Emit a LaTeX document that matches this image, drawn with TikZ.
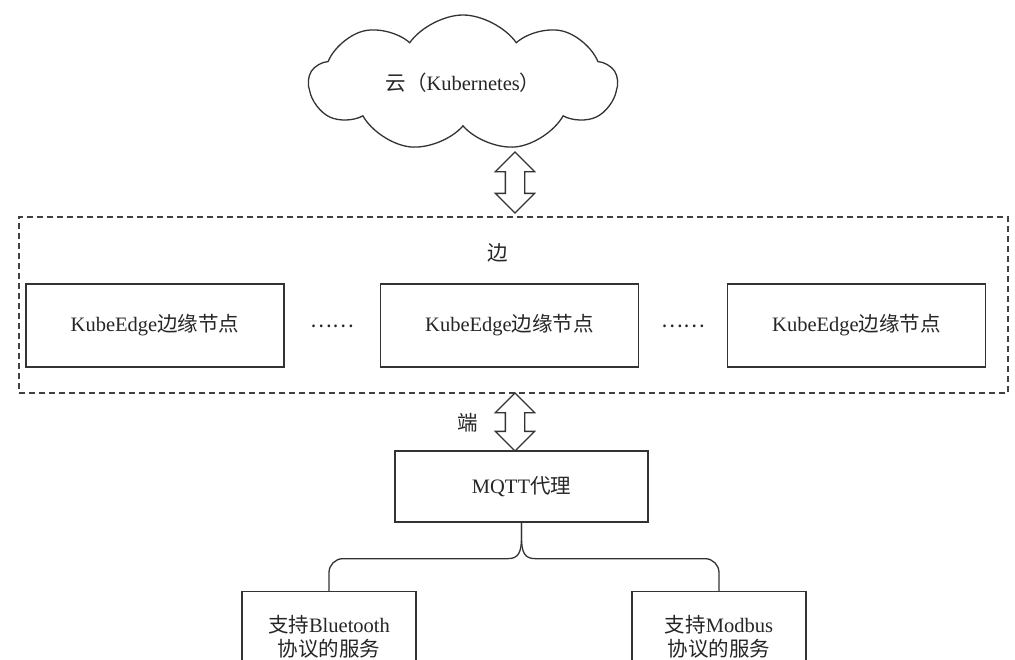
\documentclass[tikz,border=0pt]{standalone}
\usepackage{fontspec}
\setmainfont{Liberation Serif}
\newfontfamily\cjk{Noto Sans CJK SC}
\usetikzlibrary{shapes.symbols,shapes.arrows,calc}

\begin{document}
\begin{tikzpicture}[
  x=1pt, y=-1pt,
  font=\fontsize{20.5}{24}\selectfont,
  cloudnode/.style={cloud, draw=black!80, line width=1.3pt, fill=white,
              cloud puffs=9, cloud puff arc=110, aspect=2.4,
              minimum width=308pt, minimum height=136pt, text=black!85},
  box/.style={rectangle, draw=black!80, line width=1.3pt, fill=white,
              align=center, minimum width=258pt, minimum height=83pt,
              inner sep=0pt, text=black!85},
  svc/.style={rectangle, draw=black!80, line width=1.3pt, fill=white,
              align=center, minimum width=174pt, inner xsep=0pt,
              inner ysep=24pt, anchor=north, text=black!85},
  frame/.style={rectangle, draw=black!75, line width=1.2pt,
              dash pattern=on 6pt off 4pt, minimum width=989pt,
              minimum height=176pt, inner sep=0pt},
  dblarr/.style={double arrow, draw=black!80, line width=1.3pt, fill=white,
              rotate=90, inner xsep=0pt, inner ysep=9pt, minimum width=0pt,
              double arrow head extend=10pt},
  lbl/.style={text=black!85, inner sep=0pt},
  link/.style={draw=black!80, line width=1.3pt}
]
\clip (0,0) rectangle (1015,659);
\fill[white] (0,0) rectangle (1015,659);

% cloud and edge layer
\node[cloudnode] (cloud) at (463,83) {{\cjk 云（}Kubernetes{\cjk ）}};
\node[frame] (edge) at (513.5,305) {};
\node[lbl] (edgelbl) at (498,253) {\cjk 边};
\node[box] (ke1) at (155,325.5) {KubeEdge{\cjk 边缘节点}};
\node[box] (ke2) at (509.5,325.5) {KubeEdge{\cjk 边缘节点}};
\node[box] (ke3) at (856.5,325.5) {KubeEdge{\cjk 边缘节点}};
\node[lbl] (dots1) at (332,326) {\cjk ……};
\node[lbl] (dots2) at (683,326) {\cjk ……};

% double arrows
\node[dblarr, minimum height=61pt] (up) at (515,182.5) {};
\node[dblarr, minimum height=58pt] (down) at (515,422) {};
\node[lbl] (endlbl) at (468,423) {\cjk 端};

% device layer
\node[box, minimum width=253pt, minimum height=71pt] (mqtt) at (521.5,486.5)
  {MQTT{\cjk 代理}};
\node[svc] (bt) at (329,591) {{\cjk 支持}Bluetooth\\{\cjk 协议的服务}};
\node[svc] (mb) at (719,591) {{\cjk 支持}Modbus\\{\cjk 协议的服务}};

\coordinate (fork) at ($(mqtt.south)+(0,36)$);
\draw[link] (mqtt.south) -- ($(mqtt.south)+(0,14)$)
  .. controls ($(mqtt.south)+(0,30)$) and ($(fork)+(-3,0)$) .. ($(fork)+(-14,0)$)
  [rounded corners=14pt] -| (bt.north);
\draw[link] (mqtt.south) -- ($(mqtt.south)+(0,14)$)
  .. controls ($(mqtt.south)+(0,30)$) and ($(fork)+(3,0)$) .. ($(fork)+(14,0)$)
  [rounded corners=14pt] -| (mb.north);
\end{tikzpicture}
\end{document}
